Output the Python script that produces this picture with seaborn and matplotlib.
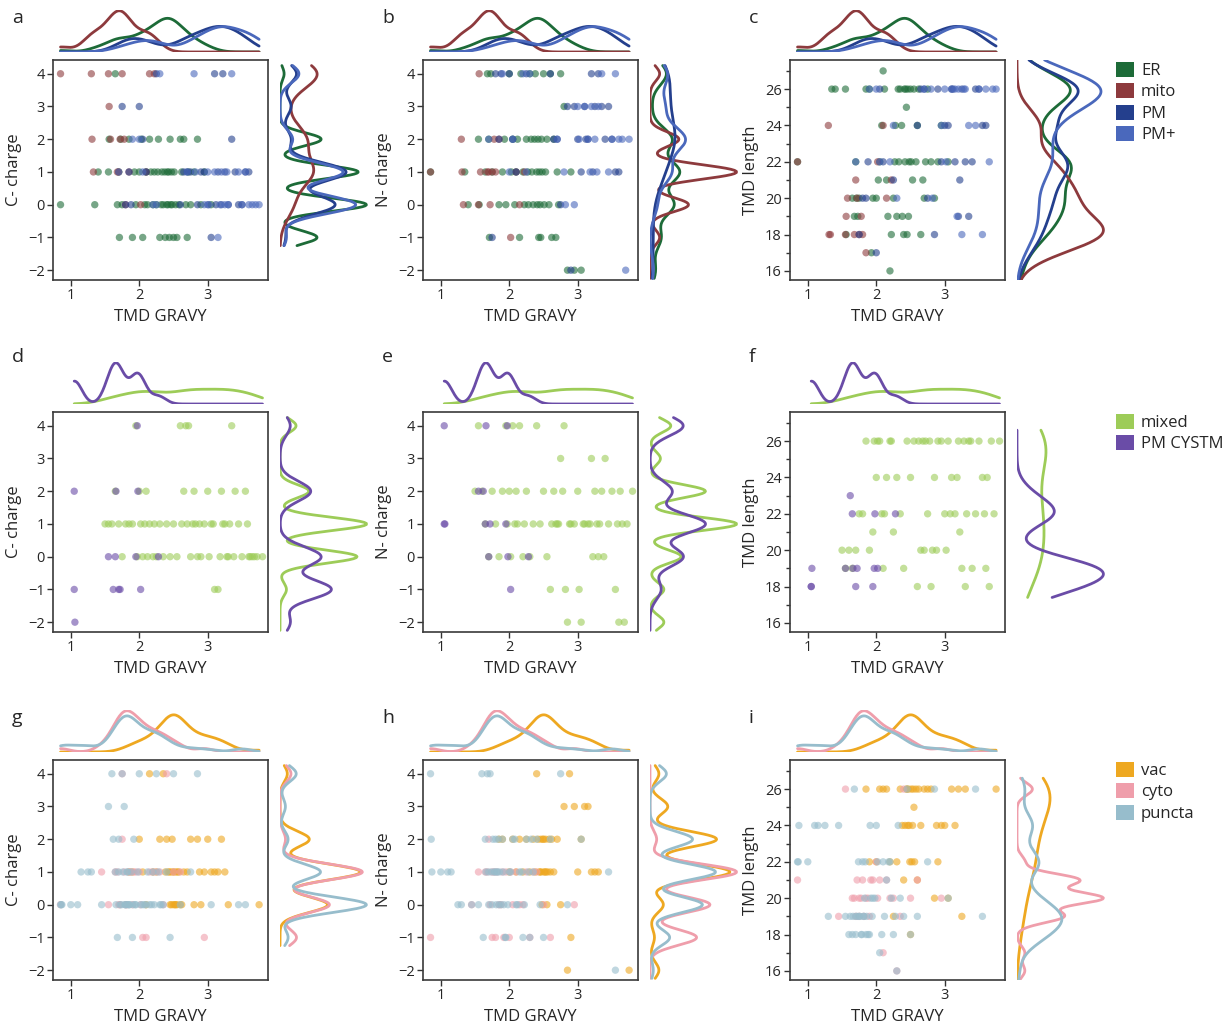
import numpy as np
import pandas as pd
import matplotlib
matplotlib.use('Agg')
import matplotlib.pyplot as plt
from matplotlib.patches import Patch
from matplotlib.ticker import MultipleLocator
import seaborn as sns

# ---------------- row 1: ER / mito / PM / PM+ ----------------
er_gravy = [0.85, 1.35, 1.40, 1.55, 1.56, 1.65, 1.68, 1.70, 1.71, 1.73,
            1.75, 1.85, 1.90, 1.93, 1.95, 2.00, 2.03, 2.05, 2.08, 2.10,
            2.12, 2.15, 2.17, 2.20, 2.22, 2.25, 2.27, 2.28, 2.30, 2.32,
            2.33, 2.35, 2.37, 2.38, 2.40, 2.41, 2.42, 2.43, 2.44, 2.45,
            2.46, 2.47, 2.48, 2.50, 2.51, 2.53, 2.55, 2.58, 2.60, 2.62,
            2.65, 2.68, 2.70, 2.72, 2.75, 2.80, 2.85, 2.90, 2.95, 3.05]
er_c = [0, 0, 1, 1, 2, 4, 0, 1, -1, 2,
        0, 2, -1, 1, 0, 1, 2, -1, 0, 1,
        0, 2, 1, 0, 1, 0, 1, 2, -1, 0,
        1, 0, 1, -1, 0, 1, 0, 1, -1, 2,
        0, 1, 0, -1, 1, 0, -1, 0, 2, 1,
        2, 0, -1, 1, 0, 1, 2, 0, 1, 0]
er_n = [1, 1, 0, 2, 0, 1, 4, 2, -1, 4,
        1, 0, 1, 2, 0, 4, 1, 2, 0, 1,
        2, -1, 4, 1, 0, 2, 1, 0, 4, 2,
        1, 0, 2, 4, 1, 0, 2, -1, 1, 0,
        -1, 2, 1, 4, 0, 1, 2, 0, 4, -1,
        2, -1, 1, 0, 4, 3, -2, 1, -2, -2]
er_len = [22, 26, 26, 26, 18, 20, 19, 22, 20, 19,
          20, 26, 26, 17, 20, 20, 21, 22, 24, 27,
          26, 21, 19, 16, 18, 20, 22, 24, 19, 26,
          22, 26, 24, 19, 18, 26, 22, 26, 25, 18,
          26, 19, 22, 26, 22, 21, 26, 22, 24, 26,
          18, 21, 20, 22, 26, 22, 20, 22, 24, 22]

mito_gravy = [0.85, 1.30, 1.31, 1.33, 1.55, 1.56, 1.58, 1.68, 1.70, 1.72,
              1.75, 1.78, 1.80, 1.85, 2.02, 2.10, 2.15, 2.22]
mito_c = [4, 4, 2, 1, 4, 3, 2, 1, 1, 2, 4, 2, 0, 1, 0, 1, 4, 4]
mito_n = [1, 2, 1, 0, 0, 4, 1, 1, 1, 0, 1, 2, 1, 2, -1, 1, 0, 1]
mito_len = [22, 24, 18, 18, 18, 19, 20, 18, 21, 20, 18, 19, 18, 17, 22, 24, 20, 21]

pm_gravy = [1.75, 1.80, 1.85, 1.88, 2.00, 2.05, 2.10, 2.25, 2.60, 2.65,
            2.70, 2.75, 2.85, 2.90, 2.95, 3.00, 3.05, 3.10, 3.12, 3.15,
            3.20, 3.22, 3.25, 3.30, 3.35, 3.40, 3.45, 3.50, 3.55, 3.60]
pm_c = [3, 0, 1, 0, 3, 2, 1, 4, 0, 1,
        1, 1, 0, 1, 1, 0, -1, 4, 0, 1,
        0, 4, 1, 0, 2, 1, 0, 0, 1, 1]
pm_n = [-1, 4, 2, 4, 4, 2, 1, 4, 4, 2,
        2, 0, 3, -2, 3, 2, 1, 3, 2, 2,
        4, 1, 3, 4, 3, 2, 3, 2, 1, 1]
pm_len = [18, 20, 20, 22, 17, 26, 22, 21, 24, 26,
          26, 20, 18, 26, 22, 24, 24, 26, 26, 22,
          19, 21, 26, 22, 19, 22, 26, 26, 24, 24]

pmp_gravy = [1.70, 1.90, 2.00, 2.05, 2.20, 2.25, 2.30, 2.70, 2.80, 2.82,
             2.95, 3.00, 3.02, 3.10, 3.15, 3.18, 3.20, 3.25, 3.28, 3.30,
             3.35, 3.45, 3.50, 3.55, 3.60, 3.65, 3.70, 3.75]
pmp_c = [1, 2, 2, 1, 0, 0, 4, 1, 4, 1,
         0, 1, 0, 1, -1, 0, 1, 0, 1, 0,
         4, 1, 0, 1, 0, 0, 0, 0]
pmp_n = [2, 4, 1, 2, 4, 1, 4, 2, 1, 0,
         0, 3, 2, 3, 2, 1, 3, 2, 1, 3,
         4, 1, 2, 4, 2, 2, -2, 2]
pmp_len = [22, 26, 26, 22, 22, 24, 20, 26, 26, 20,
           24, 26, 22, 26, 26, 19, 26, 18, 26, 26,
           24, 24, 26, 18, 26, 22, 26, 26]

# ---------------- row 2: mixed / PM CYSTM ----------------
mixed_gravy = [1.50, 1.55, 1.60, 1.65, 1.70, 1.75, 1.80, 1.85, 1.90, 1.95,
               1.97, 2.00, 2.02, 2.05, 2.08, 2.10, 2.12, 2.15, 2.20, 2.22, 2.25, 2.30,
               2.35, 2.40, 2.45, 2.50, 2.55, 2.60, 2.62, 2.65, 2.68, 2.70,
               2.72, 2.75, 2.78, 2.80, 2.82, 2.85, 2.88, 2.90, 2.95, 3.00, 3.02, 3.05,
               3.08, 3.10, 3.15, 3.18, 3.20, 3.22, 3.25, 3.28, 3.30, 3.32, 3.35, 3.38, 3.40,
               3.45, 3.50, 3.55, 3.58, 3.60, 3.62, 3.65, 3.68, 3.72, 3.80]
mixed_c = [1, 1, 1, 2, 1, 0, 1, 1, 1, 4,
           0, 2, 1, 0, 1, 2, 0, 1, 0, 1, 0, 1,
           0, 1, 0, 1, 0, 4, 1, 2, 4, 1,
           4, 0, 1, 2, 1, 0, 1, 0, 1, 2, 0, 1,
           1, -1, -1, 0, 2, 1, 1, 0, 0, 1, 4, 0, 2,
           1, 0, 2, 1, 0, 0, 0, 0, 0, 0]
mixed_n = [2, 4, 2, 1, 0, 2, 1, 0, 2, 4,
           1, 2, 0, 4, 1, 2, 1, 4, 0, 1, 2, 0,
           1, 4, 1, 2, 0, -1, 1, 2, 1, 1,
           1, 3, 2, 4, -1, -2, 1, 1, 1, 2, -1, -2,
           1, 1, 1, 1, 3, 0, 2, 1, 0, 1, 2, 0, 3,
           1, 2, -1, 1, -2, 2, 1, -2, 1, 2]
mixed_len = [20, 19, 20, 19, 20, 22, 22, 26, 20, 21,
             26, 24, 26, 26, 22, 19, 22, 24, 26, 26, 21, 24,
             22, 19, 26, 24, 26, 18, 26, 20, 26, 20,
             26, 22, 26, 18, 20, 24, 20, 26, 26, 22, 20, 26,
             22, 24, 22, 24, 26, 21, 19, 26, 18, 22, 26, 26, 19,
             22, 26, 24, 22, 19, 24, 18, 26, 22, 26]

cystm_gravy = [1.05, 1.05, 1.06, 1.55, 1.62, 1.65, 1.66, 1.70, 1.72, 1.95,
               1.97, 1.98, 2.02, 2.28]
cystm_c = [2, -1, -2, 0, -1, 0, 2, -1, -1, 0, 4, 2, -1, 0]
cystm_n = [4, 1, 1, 2, 2, 1, 4, 0, 1, 1, 4, 0, -1, 0]
cystm_len = [18, 18, 19, 19, 23, 22, 19, 18, 19, 18, 19, 22, 19, 22]

# ---------------- row 3: vac / cyto / puncta ----------------
vac_gravy = [1.85, 1.90, 2.00, 2.05, 2.10, 2.15, 2.20, 2.25, 2.30, 2.35,
             2.38, 2.40, 2.42, 2.44, 2.45, 2.46, 2.47, 2.48, 2.49, 2.50,
             2.51, 2.52, 2.53, 2.54, 2.55, 2.56, 2.58, 2.60, 2.62, 2.65,
             2.70, 2.75, 2.80, 2.85, 2.88, 2.90, 2.95, 3.00, 3.05, 3.10,
             3.15, 3.20, 3.25, 3.30, 3.75]
vac_c = [1, 1, 2, 1, 0, 4, 1, 1, 2, 4,
         1, 2, 1, 1, 0, 1, 0, 2, 1, 0,
         1, 0, 0, 1, 0, 1, 1, 0, 0, 1,
         1, 2, 0, 2, 1, 0, 1, 2, 1, 1,
         1, 2, 1, 0, 0]
vac_n = [2, 2, 1, 2, 1, 2, 1, 2, 1, 2,
         1, 4, 2, 1, 1, 2, 1, 0, 2, 2,
         1, 1, 2, 1, 0, 1, 2, 1, 2, 1,
         2, 0, 3, -2, 4, -1, 3, 1, 2, 3,
         3, 1, 1, 1, -2]
vac_len = [26, 22, 22, 26, 26, 26, 22, 19, 22, 26,
           24, 21, 24, 26, 26, 24, 26, 24, 22, 18,
           26, 22, 24, 26, 25, 22, 26, 21, 26, 24,
           26, 26, 26, 20, 24, 22, 24, 24, 20, 26,
           24, 26, 19, 26, 26]

cyto_gravy = [0.85, 1.45, 1.55, 1.65, 1.68, 1.70, 1.72, 1.75, 1.75, 1.78,
              1.80, 1.82, 1.85, 1.88, 1.90, 1.92, 1.95, 2.00, 2.02, 2.05,
              2.10, 2.15, 2.20, 2.25, 2.30, 2.35, 2.40, 2.50, 2.60, 2.95]
cyto_c = [0, 1, 0, 1, 1, 0, 0, 4, 2, 1,
          0, 0, 1, 1, 0, 1, 1, 1, 0, -1,
          -1, 1, 1, 1, 1, 0, 4, 1, 1, -1]
cyto_n = [-1, 0, 1, 1, 1, 2, 0, 1, -1, 1,
          -1, 1, 0, 0, 1, -1, 1, -1, 1, 0,
          1, 0, 0, 1, -1, 1, 1, 0, -1, 0]
cyto_len = [21, 19, 26, 20, 20, 19, 21, 20, 19, 20,
            21, 19, 20, 20, 19, 21, 21, 22, 20, 21,
            17, 21, 20, 20, 16, 19, 26, 20, 21, 20]

puncta_gravy = [0.85, 0.86, 0.87, 1.00, 1.10, 1.15, 1.25, 1.30, 1.45, 1.55,
                1.60, 1.62, 1.65, 1.66, 1.68, 1.70, 1.70, 1.72, 1.74, 1.75,
                1.76, 1.78, 1.79, 1.80, 1.81, 1.82, 1.83, 1.84, 1.85, 1.86,
                1.88, 1.90, 1.91, 1.92, 1.94, 1.95, 1.98, 2.00, 2.02, 2.05,
                2.08, 2.10, 2.12, 2.15, 2.18, 2.20, 2.22, 2.25, 2.28, 2.30,
                2.32, 2.35, 2.40, 2.45, 2.50, 2.60, 2.75, 2.85, 3.05, 3.45, 3.55]
puncta_c = [0, 0, 0, 0, 0, 1, 1, 1, 0, 3,
            4, 2, 1, 0, -1, 2, 1, 0, 0, 4,
            1, 3, 0, 0, 0, 1, 1, 0, 0, 0,
            1, -1, 0, 2, 0, 0, 1, 4, 0, 0,
            0, 0, 1, 0, 0, 1, 0, 4, 1, 0,
            0, 0, 1, -1, 4, 0, 1, 4, 0, 0, 0]
puncta_n = [4, 2, 1, 1, 1, 1, 0, 0, 0, 0,
            4, -1, 2, 1, 4, 1, 0, 4, 1, 0,
            2, 1, 1, 2, 0, 1, 1, 2, 0, 1,
            0, 2, 1, 0, -1, -1, 0, 1, 1, 2,
            2, 0, 0, 1, 1, -1, 0, 2, 1, -1,
            2, 1, 2, 0, -1, 2, 4, 0, 2, 1, -2]
puncta_len = [22, 22, 24, 22, 24, 24, 24, 19, 24, 19,
              18, 19, 18, 19, 26, 19, 18, 19, 22, 19,
              19, 18, 18, 22, 19, 19, 20, 22, 18, 19,
              18, 18, 24, 20, 19, 20, 20, 24, 22, 17,
              18, 22, 19, 21, 22, 22, 20, 18, 19, 16,
              24, 20, 19, 26, 18, 19, 22, 26, 20, 26, 19]

colors = {'ER': '#1d6b38', 'mito': '#8d3a3d', 'PM': '#243f8d', 'PM+': '#4a68bc',
          'mixed': '#9dcc58', 'PM CYSTM': '#6a4ca7',
          'vac': '#eea821', 'cyto': '#ef9eab', 'puncta': '#97bdcc'}

# marginal density bandwidths (data units): per row default, per group override
bw_gravy = [{'_': 0.15, 'PM': 0.2, 'PM+': 0.2},
            {'_': 0.11, 'mixed': 0.22},
            {'_': 0.13, 'vac': 0.17}]
bw_c = [{'_': 0.2, 'mito': 0.45, 'PM': 0.3, 'PM+': 0.28},
        {'_': 0.2, 'PM CYSTM': 0.3},
        {'_': 0.24}]
bw_n = [{'_': 0.35, 'mito': 0.22, 'PM': 0.6, 'PM+': 0.4},
        {'_': 0.2, 'PM CYSTM': 0.3},
        {'_': 0.24}]
bw_len = [{'_': 0.9, 'PM+': 1.1},
          {'_': 1.5, 'PM CYSTM': 0.7},
          {'_': 0.7, 'vac': 1.3, 'cyto': 0.35}]


def build(groups):
    frames = []
    for name, g, c, n, l in groups:
        frames.append(pd.DataFrame({'group': name, 'gravy': g, 'C': c, 'N': n, 'len': l}))
    return pd.concat(frames, ignore_index=True)


rows = [
    build([('ER', er_gravy, er_c, er_n, er_len),
           ('mito', mito_gravy, mito_c, mito_n, mito_len),
           ('PM', pm_gravy, pm_c, pm_n, pm_len),
           ('PM+', pmp_gravy, pmp_c, pmp_n, pmp_len)]),
    build([('mixed', mixed_gravy, mixed_c, mixed_n, mixed_len),
           ('PM CYSTM', cystm_gravy, cystm_c, cystm_n, cystm_len)]),
    build([('vac', vac_gravy, vac_c, vac_n, vac_len),
           ('cyto', cyto_gravy, cyto_c, cyto_n, cyto_len),
           ('puncta', puncta_gravy, puncta_c, puncta_n, puncta_len)]),
]
letters = [['a', 'b', 'c'], ['d', 'e', 'f'], ['g', 'h', 'i']]

sns.set_style('ticks')
plt.rcParams['font.family'] = ['Open Sans', 'DejaVu Sans']

W, H = 1227, 1023
fig = plt.figure(figsize=(W / 100, H / 100), dpi=100)


def px_axes(x0, y0, x1, y1):
    return fig.add_axes([x0 / W, 1 - y1 / H, (x1 - x0) / W, (y1 - y0) / H])


def adjust_for(v, bw):
    # turn an absolute bandwidth into seaborn's bw_adjust (scott factor * std)
    v = np.asarray(v, float)
    return bw / (v.std(ddof=1) * len(v) ** -0.2)


col_x = [53, 423, 790]
row_y = [60, 412, 760]
letter_y = [18, 357, 718]
ycols = [('C', 'C- charge'), ('N', 'N- charge'), ('len', 'TMD length')]
bw_tables = {'C': bw_c, 'N': bw_n, 'len': bw_len}

for r, df in enumerate(rows):
    order = list(dict.fromkeys(df['group']))
    pal = {g: colors[g] for g in order}
    glo, ghi = df['gravy'].min(), df['gravy'].max()
    for c, (ycol, ylab) in enumerate(ycols):
        x0, y0 = col_x[c], row_y[r]
        ax = px_axes(x0, y0, x0 + 215, y0 + 220)
        axt = px_axes(x0, y0 - 50, x0 + 215, y0 - 8)
        axr = px_axes(x0 + 227, y0, x0 + 315, y0 + 220)

        sns.scatterplot(data=df, x='gravy', y=ycol, hue='group', palette=pal,
                        s=28, alpha=0.6, linewidth=0, legend=False, ax=ax)
        ax.set_xlim(0.74, 3.88)
        ax.set_xticks([1, 2, 3])
        if ycol == 'len':
            ax.set_ylim(15.5, 27.6)
            ax.set_yticks(range(16, 27, 2))
            ax.yaxis.set_minor_locator(MultipleLocator(1))
            pad = 0.6
        else:
            ax.set_ylim(-2.3, 4.42)
            ax.set_yticks(range(-2, 5))
            pad = 0.25
        ax.set_xlabel('TMD GRAVY', fontsize=12)
        ax.set_ylabel(ylab, fontsize=12)
        ax.tick_params(axis='both', which='major', direction='out', length=4, width=1,
                       color='#333333', labelsize=10.5, pad=2)
        ax.tick_params(axis='y', which='minor', direction='out', length=3, width=1, color='#333333')
        for sp in ax.spines.values():
            sp.set_visible(True)
            sp.set_color('#3a3a3a')
            sp.set_linewidth(1.2)

        ylo, yhi = df[ycol].min() - pad, df[ycol].max() + pad
        tx = bw_gravy[r]
        ty = bw_tables[ycol][r]
        for g in order:
            sub = df[df['group'] == g]
            sns.kdeplot(data=sub, x='gravy', color=pal[g], lw=2, cut=100, clip=(glo, ghi),
                        bw_adjust=adjust_for(sub['gravy'], tx.get(g, tx['_'])), ax=axt)
            sns.kdeplot(data=sub, y=ycol, color=pal[g], lw=2, cut=100, clip=(ylo, yhi),
                        bw_adjust=adjust_for(sub[ycol], ty.get(g, ty['_'])), ax=axr)
        axt.set_xlim(ax.get_xlim())
        axt.set_ylim(0, axt.get_ylim()[1] * 0.97)
        axr.set_ylim(ax.get_ylim())
        axr.set_xlim(0, axr.get_xlim()[1] * 0.97)
        axt.axis('off')
        axr.axis('off')

        fig.text((x0 - 41) / W, 1 - letter_y[r] / H, letters[r][c], fontsize=14,
                 ha='left', va='center')

    handles = [Patch(facecolor=pal[g], edgecolor='none', label=g) for g in order]
    fig.legend(handles=handles, loc='upper left',
               bbox_to_anchor=(1116 / W, 1 - (row_y[r] + 2) / H),
               frameon=False, fontsize=12, handlelength=1.1, handleheight=1.0,
               handletextpad=0.4, labelspacing=0.25, borderpad=0, borderaxespad=0)

fig.savefig('out.png', dpi=100)
